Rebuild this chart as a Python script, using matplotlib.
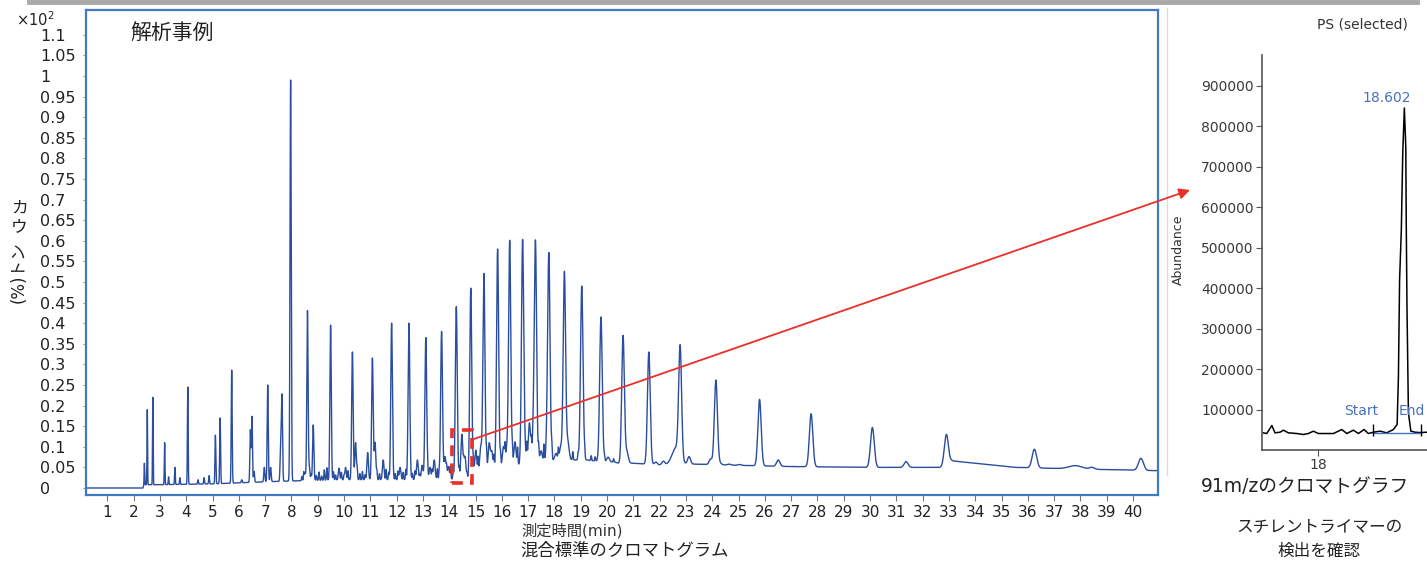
import numpy as np
import matplotlib
matplotlib.use("Agg")
import matplotlib.pyplot as plt
from matplotlib.patches import Rectangle, ConnectionPatch
from matplotlib.lines import Line2D

plt.rcParams["font.family"] = ["DejaVu Sans", "Noto Sans CJK JP"]

# -------- 混合標準 TIC: ピーク頂点 (min, x10^2 %) ----------
PEAK_T = [2.41, 2.52, 2.73, 3.18, 3.33, 3.57, 3.76, 4.06, 4.45, 4.68, 4.87,
          5.11, 5.29, 5.73, 6.11, 6.44, 6.50, 6.58, 6.97, 7.10, 7.21, 7.59,
          7.64, 7.97, 8.52, 8.61, 8.68, 8.83, 9.49, 9.81, 10.06, 10.32, 10.44,
          10.90, 11.08, 11.18, 11.49, 11.81, 12.13, 12.47, 12.79, 12.97, 13.11,
          13.27, 13.43, 13.71, 13.84, 13.97, 14.27, 14.48, 14.60, 14.82, 15.01,
          15.20, 15.32, 15.52, 15.62, 15.84, 16.06, 16.19, 16.30, 16.50, 16.79,
          16.88, 17.05, 17.20, 17.28, 17.49, 17.73, 17.79, 18.06, 18.24, 18.38,
          18.51, 18.59, 18.78, 19.04, 19.27, 19.77, 20.04, 20.44, 20.61, 20.76,
          21.59, 21.86, 22.14, 22.78, 23.12, 23.94, 24.14, 24.30, 24.64, 25.03,
          25.80, 26.51, 27.76, 30.09, 31.37, 32.90, 36.25, 38.44, 40.30]
PEAK_H = [0.06, 0.19, 0.22, 0.11, 0.027, 0.05, 0.025, 0.245, 0.02, 0.025, 0.03,
          0.128, 0.17, 0.286, 0.02, 0.14, 0.173, 0.04, 0.05, 0.25, 0.05, 0.09,
          0.223, 0.99, 0.036, 0.43, 0.05, 0.153, 0.395, 0.048, 0.05, 0.33, 0.11,
          0.086, 0.315, 0.11, 0.068, 0.40, 0.05, 0.40, 0.068, 0.055, 0.365,
          0.05, 0.068, 0.38, 0.076, 0.052, 0.44, 0.13, 0.076, 0.485, 0.092,
          0.099, 0.52, 0.108, 0.088, 0.58, 0.10, 0.095, 0.60, 0.112, 0.60,
          0.09, 0.158, 0.128, 0.59, 0.09, 0.118, 0.55, 0.084, 0.099, 0.525,
          0.112, 0.07, 0.068, 0.49, 0.068, 0.415, 0.075, 0.06, 0.37, 0.088,
          0.33, 0.063, 0.065, 0.325, 0.076, 0.07, 0.262, 0.06, 0.058, 0.057,
          0.215, 0.068, 0.18, 0.147, 0.064, 0.13, 0.094, 0.05, 0.072]

# 小さなノイズ状のピーク (min, ベースラインからの高さ)
NOISE_T = [8.40, 8.47, 8.75, 8.95, 9.05, 9.15, 9.25, 9.35, 9.60, 9.68, 9.90,
           10.00, 10.15, 10.50, 10.60, 10.70, 10.80, 11.25, 11.35, 11.60, 11.70,
           11.95, 12.05, 12.25, 12.35, 12.60, 12.70, 12.88, 13.18, 13.35, 13.55,
           13.62, 13.90, 14.05, 14.15, 14.38, 14.55, 14.68, 14.92, 15.10, 15.42,
           15.70, 15.95, 16.12, 16.40, 16.60, 16.95, 17.12, 17.40, 17.60, 17.90,
           18.15, 18.70, 18.90, 19.15, 19.40, 19.55, 19.90, 20.25]
NOISE_H = [0.010, 0.020, 0.015, 0.012, 0.020, 0.010, 0.025, 0.030, 0.020, 0.012,
           0.018, 0.010, 0.022, 0.025, 0.015, 0.020, 0.012, 0.020, 0.015, 0.025,
           0.018, 0.015, 0.020, 0.018, 0.025, 0.015, 0.020, 0.012, 0.015, 0.020,
           0.025, 0.015, 0.020, 0.030, 0.020, 0.025, 0.020, 0.012, 0.030, 0.035,
           0.040, 0.030, 0.030, 0.035, 0.030, 0.040, 0.040, 0.030, 0.035, 0.040,
           0.030, 0.025, 0.020, 0.015, 0.015, 0.012, 0.010, 0.010, 0.008]

# 幅の広い盛り上がり (min, 高さ, 幅)
HUMP_T = [22.62, 37.81]
HUMP_H = [0.040, 0.008]
HUMP_W = [0.15, 0.25]

# ベースライン (min, x10^2 %)
BASE_T = [0, 2.35, 2.40, 3.0, 5.0, 7.0, 8.5, 10.0, 12.0, 14.0, 14.7, 15.0, 16.0,
          17.0, 18.0, 19.0, 20.0, 21.0, 22.0, 23.3, 25.0, 27.0, 30.0, 32.85,
          33.1, 35.5, 38.0, 41.0]
BASE_H = [0, 0, 0.008, 0.008, 0.010, 0.015, 0.018, 0.020, 0.020, 0.022, 0.020,
          0.035, 0.050, 0.060, 0.068, 0.068, 0.064, 0.060, 0.056, 0.058, 0.055,
          0.052, 0.050, 0.050, 0.066, 0.050, 0.046, 0.042]

Y_TICK_LABELS = ["0", "0.05", "0.1", "0.15", "0.2", "0.25", "0.3", "0.35", "0.4",
                 "0.45", "0.5", "0.55", "0.6", "0.65", "0.7", "0.75", "0.8",
                 "0.85", "0.9", "0.95", "1", "1.05", "1.1"]
X_TICKS = list(range(1, 41))

# 拡大範囲 (min, x10^2 %)
ZOOM_T = [14.10, 14.85]
ZOOM_H = [0.012, 0.141]

# -------- 91 m/z クロマトグラム ----------
MZ_T = [17.621, 17.645, 17.680, 17.702, 17.737, 17.760, 17.794, 17.853, 17.898,
        17.933, 17.967, 18.002, 18.106, 18.164, 18.199, 18.244, 18.279, 18.318,
        18.348, 18.383, 18.429, 18.475, 18.521, 18.547, 18.556, 18.564, 18.576,
        18.586, 18.597, 18.607, 18.610, 18.615, 18.625, 18.642, 18.671, 18.706,
        18.754, 18.844]
MZ_A = [42400, 40700, 60500, 42400, 44000, 49000, 42400, 40700, 38300,
        40700, 46500, 40700, 40700, 50600, 40700, 49000, 40700, 50600,
        40700, 44000, 46500, 42400, 50600, 63000, 182000, 420000, 543000,
        735000, 845000, 747000, 564000, 360000, 92000, 46500, 44000, 43000,
        44000, 43000]
MZ_PEAK = 18.602
MZ_START, MZ_END, MZ_BASE = 18.383, 18.711, 43000
MZ_YTICKS = [100000, 200000, 300000, 400000, 500000, 600000, 700000, 800000, 900000]
MZ_XTICKS = [18]

W, H = 1427, 562


def px(x, y):
    return x / W, 1 - y / H


fig = plt.figure(figsize=(W / 100, H / 100), dpi=100)

# -------- 左: 混合標準 ----------
ax = fig.add_axes([86 / W, 1 - 495 / H, (1158 - 86) / W, (495 - 10) / H])
t = np.linspace(0, 41, 20501)
y = np.interp(t, BASE_T, BASE_H)
pt = np.asarray(PEAK_T)
amp = np.asarray(PEAK_H) - np.interp(pt, BASE_T, BASE_H)
sig = 0.005 + 0.0022 * pt
for ti, ai, si in zip(pt, amp, sig):
    y += ai * np.exp(-0.5 * ((t - ti) / si) ** 2)
for ti, ai in zip(NOISE_T, NOISE_H):
    y += ai * np.exp(-0.5 * ((t - ti) / 0.015) ** 2)
for ti, ai, wi in zip(HUMP_T, HUMP_H, HUMP_W):
    y += ai * np.exp(-0.5 * ((t - ti) / wi) ** 2)
ax.plot(t, y, color="#2a4d9e", lw=1.0)

ax.set_xlim(0.19, 40.95)
ax.set_ylim(-0.017, 1.16)
for s in ax.spines.values():
    s.set_color("#3f7ac6")
    s.set_linewidth(1.6)
ax.set_xticks(X_TICKS)
ax.tick_params(axis="x", length=4, color="#777777", labelsize=11, pad=3,
               labelcolor="#222222")
ax.set_yticks([float(v) for v in Y_TICK_LABELS])
ax.set_yticklabels(Y_TICK_LABELS)
ax.tick_params(axis="y", length=2, color="#999999", labelsize=11.5, pad=31,
               labelcolor="#222222")
for lb in ax.get_yticklabels():
    lb.set_horizontalalignment("left")

ax.add_patch(Rectangle((ZOOM_T[0], ZOOM_H[0]), ZOOM_T[1] - ZOOM_T[0],
                       ZOOM_H[1] - ZOOM_H[0], fill=False, ec="#e8302a",
                       lw=2.6, ls=(0, (3, 2)), zorder=5))
ax.text(*px(130, 33), "解析事例", transform=fig.transFigure, fontsize=15,
        va="center", ha="left", color="#222222")

# -------- 右: 91 m/z ----------
ax2 = fig.add_axes([1262 / W, 1 - 450 / H, (1460 - 1262) / W, (450 - 55) / H])
ax2.plot(MZ_T, MZ_A, color="black", lw=1.1)
ax2.plot([MZ_START, MZ_END], [MZ_BASE, MZ_BASE], color="#4472c4", lw=1.0)
ax2.vlines([MZ_START, MZ_END], 35000, 64000, color="black", lw=1.0)
ax2.set_xlim(17.612, 18.982)
ax2.set_ylim(0, 976000)
ax2.set_yticks(MZ_YTICKS)
ax2.set_xticks(MZ_XTICKS)
ax2.tick_params(length=4, color="#555555", labelsize=10, labelcolor="#3a3a3a", pad=2)
for k in ("top", "right"):
    ax2.spines[k].set_visible(False)
for k in ("left", "bottom"):
    ax2.spines[k].set_color("#555555")
    ax2.spines[k].set_linewidth(1.2)
ax2.annotate(f"{MZ_PEAK:.3f}", xy=(MZ_PEAK, max(MZ_A)), xytext=(-18, 10),
             textcoords="offset pixels", ha="center", va="center",
             fontsize=10, color="#4a6fbf")
ax2.annotate("Start", xy=(MZ_START, MZ_BASE), xytext=(-12, 22),
             textcoords="offset pixels", ha="center", va="center",
             fontsize=10, color="#4a6fbf")
ax2.annotate("End", xy=(MZ_END, MZ_BASE), xytext=(-22, 22),
             textcoords="offset pixels", ha="left", va="center",
             fontsize=10, color="#4a6fbf", annotation_clip=False)

# -------- 装飾・テキスト ----------
fig.add_artist(Line2D([0.02, 0.993], [1 - 2 / H, 1 - 2 / H],
                      transform=fig.transFigure, color="#a8a8a8", lw=3.5))
fig.add_artist(Line2D([1167 / W, 1167 / W], [1 - 8 / H, 1 - 475 / H],
                      transform=fig.transFigure, color="#dedede", lw=1))

fig.text(*px(16, 20), "×10$^2$", fontsize=10.5, ha="left", va="center",
         color="#222222")
fig.text(*px(19, 217), "カ\nウ", fontsize=12, ha="center", va="center",
         linespacing=1.0, color="#222222")
fig.text(*px(19, 272), "(%)トン", fontsize=12, rotation=90, ha="center",
         va="center", color="#222222")
fig.text(*px(572, 531), "測定時間(min)", fontsize=11, ha="center", va="center",
         color="#333333")
fig.text(*px(625, 551), "混合標準のクロマトグラム", fontsize=12.5, ha="center",
         va="center", color="#222222")

fig.text(*px(1362, 25), "PS (selected)", fontsize=10, ha="center", va="center",
         color="#333333")
fig.text(*px(1178, 250), "Abundance", fontsize=9, rotation=90, ha="center",
         va="center", color="#333333")
fig.text(*px(1305, 487), "91m/zのクロマトグラフ", fontsize=13.5, ha="center",
         va="center", color="#222222")
fig.text(*px(1319, 527), "スチレントライマーの", fontsize=12, ha="center",
         va="center", color="#222222")
fig.text(*px(1319, 551), "検出を確認", fontsize=12, ha="center", va="center",
         color="#222222")

arrow = ConnectionPatch(xyA=(ZOOM_T[1], 0.117), coordsA=ax.transData,
                        xyB=px(1190, 190), coordsB=fig.transFigure,
                        arrowstyle="-|>", mutation_scale=16, color="#e8302a",
                        lw=1.3, zorder=10)
fig.add_artist(arrow)

fig.savefig("out.png", dpi=100)
